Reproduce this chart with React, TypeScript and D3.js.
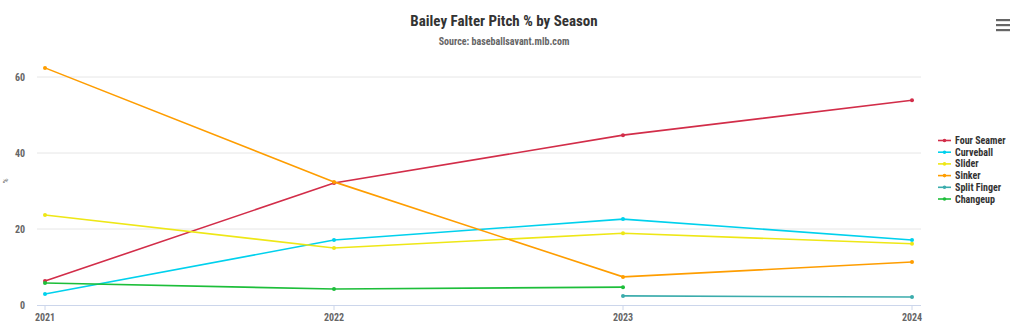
import React from "react";
import * as d3 from "d3";

const years = [2021, 2022, 2023, 2024];
const seriesNames = ["Four Seamer", "Curveball", "Slider", "Sinker", "Split Finger", "Changeup"];
const seriesColors = ["#d22d49", "#00d1ed", "#eee716", "#fe9d00", "#3bacac", "#1dbe3a"];
const fourSeamer = [6.3, 32.1, 44.7, 53.9];
const curveball = [2.9, 17.1, 22.6, 17.1];
const slider = [23.7, 15.0, 18.9, 16.1];
const sinker = [62.4, 32.4, 7.4, 11.3];
const splitFinger: (number | null)[] = [null, null, 2.4, 2.1];
const changeup: (number | null)[] = [5.8, 4.2, 4.7, null];
const yTicks = [0, 20, 40, 60];

const seriesValues: (number | null)[][] = [fourSeamer, curveball, slider, sinker, splitFinger, changeup];

const W = 1022;
const H = 330;
const FONT = "'Roboto Condensed', 'Liberation Sans Narrow', 'DejaVu Sans Condensed', Roboto, sans-serif";

export default function App() {
  const x = d3.scaleLinear().domain([2021, 2024]).range([45, 912]);
  const y = d3.scaleLinear().domain([0, 60]).range([305, 77]);
  const plotLeft = 37;
  const plotRight = 921;

  const line = d3
    .line<number | null>()
    .defined((d) => d !== null)
    .x((_, i) => x(years[i]))
    .y((d) => y(d as number));

  return (
    <svg
      width={W}
      height={H}
      style={{ position: "absolute", left: 0, top: 0, background: "#fff" }}
      fontFamily={FONT}
    >
      <rect x={0} y={0} width={W} height={H} fill="#ffffff" />
      <text x={504} y={26} textAnchor="middle" fontSize={15} fontWeight="bold" fill="#333333">
        Bailey Falter Pitch % by Season
      </text>
      <text x={504} y={45} textAnchor="middle" fontSize={10} fontWeight="bold" fill="#666666">
        Source: baseballsavant.mlb.com
      </text>

      {/* hamburger */}
      {[0, 5, 10].map((dy) => (
        <rect key={dy} x={996} y={19 + dy} width={14} height={2.2} fill="#666666" />
      ))}

      {/* grid */}
      {yTicks.map((t) =>
        t === 0 ? null : (
          <line key={t} x1={plotLeft} x2={plotRight} y1={y(t)} y2={y(t)} stroke="#e6e6e6" strokeWidth={1} />
        )
      )}
      {yTicks.map((t) => (
        <text key={"yl" + t} x={25} y={y(t) + 3.5} textAnchor="end" fontSize={10} fontWeight="bold" fill="#666666">
          {t}
        </text>
      ))}
      <text
        transform={`translate(8,${181}) rotate(-90)`}
        textAnchor="middle"
        fontSize={8}
        fill="#666666"
      >
        %
      </text>

      {/* x axis */}
      <line x1={plotLeft} x2={plotRight} y1={305.5} y2={305.5} stroke="#ccd6eb" strokeWidth={1} />
      {years.map((yr) => (
        <g key={yr}>
          <line x1={x(yr)} x2={x(yr)} y1={305.5} y2={310} stroke="#ccd6eb" strokeWidth={1} />
          <text x={x(yr)} y={321} textAnchor="middle" fontSize={10} fontWeight="bold" fill="#666666">
            {yr}
          </text>
        </g>
      ))}

      {/* series */}
      {seriesValues.map((vals, si) => (
        <g key={si}>
          <path d={line(vals) || ""} fill="none" stroke={seriesColors[si]} strokeWidth={1.6} />
          {vals.map((v, i) =>
            v === null ? null : (
              <circle key={i} cx={x(years[i])} cy={y(v)} r={2} fill={seriesColors[si]} />
            )
          )}
        </g>
      ))}

      {/* legend */}
      {seriesNames.map((name, i) => {
        const ly = 140.5 + i * 11.7;
        return (
          <g key={name}>
            <line x1={938} x2={951} y1={ly} y2={ly} stroke={seriesColors[i]} strokeWidth={1.6} />
            <circle cx={944.5} cy={ly} r={1.8} fill={seriesColors[i]} />
            <text x={955} y={ly + 3.5} fontSize={10} fontWeight="bold" fill="#333333">
              {name}
            </text>
          </g>
        );
      })}
    </svg>
  );
}
